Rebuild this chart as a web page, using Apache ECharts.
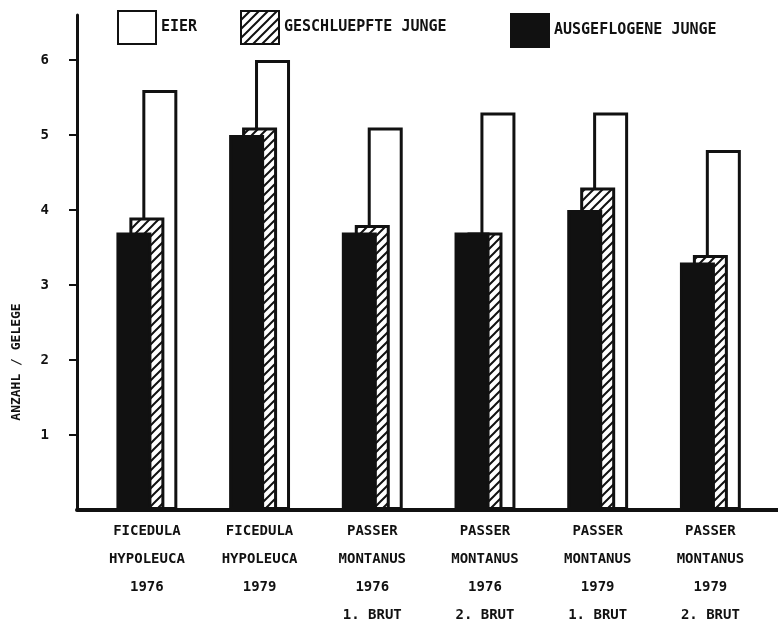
<!DOCTYPE html>
<html>
<head>
<meta charset="utf-8">
<script src="https://cdn.jsdelivr.net/npm/echarts@6/dist/echarts.min.js"></script>
<style>
	html, body { margin: 0; padding: 0; background: #fff; }
	#chart { width: 778px; height: 623px; }
</style>
</head>
<body>
<div id="chart"></div>
<script>
// groups on the x axis (one text line per entry)
var species = ["FICEDULA\nHYPOLEUCA", "FICEDULA\nHYPOLEUCA", "PASSER\nMONTANUS", "PASSER\nMONTANUS", "PASSER\nMONTANUS", "PASSER\nMONTANUS"];
var years = ["1976", "1979", "1976", "1976", "1979", "1979"];
var broods = ["", "", "1. BRUT", "2. BRUT", "1. BRUT", "2. BRUT"];

// values per group (ANZAHL / GELEGE)
var eier = [5.6, 6.0, 5.1, 5.3, 5.3, 4.8];
var geschluepft = [3.9, 5.1, 3.8, 3.7, 4.3, 3.4];
var ausgeflogen = [3.7, 5.0, 3.7, 3.7, 4.0, 3.3];

var yTicks = [1, 2, 3, 4, 5, 6];

var font = "'DejaVu Sans Mono', monospace";
var ink = "#111";

// hatch fill for the hatched bars
var hatch = document.createElement("canvas");
hatch.width = 9;
hatch.height = 9;
var ctx = hatch.getContext("2d");
ctx.fillStyle = "#fff";
ctx.fillRect(0, 0, 9, 9);
ctx.strokeStyle = ink;
ctx.lineWidth = 2;
ctx.beginPath();
ctx.moveTo(0, 9); ctx.lineTo(9, 0);
ctx.moveTo(-2, 2); ctx.lineTo(2, -2);
ctx.moveTo(7, 11); ctx.lineTo(11, 7);
ctx.stroke();

var labels = species.map(function(s, i) {
	var text = s + "\n" + years[i];
	if (broods[i]) {
		text += "\n" + broods[i];
	}
	return text;
});

var pairs = function(values) {
	return values.map(function(v, i) {
		return [i, v];
	});
};

var chart = echarts.init(document.getElementById("chart"));
var option = {
	animation: false,
	backgroundColor: "#fff",
	grid: {
		left: 77,
		right: 0,
		top: 15,
		bottom: 113,
		outerBoundsMode: "none"
	},
	legend: [{
		data: ["EIER"],
		left: 117,
		top: 10
	}, {
		data: ["GESCHLUEPFTE JUNGE"],
		left: 240,
		top: 10
	}, {
		data: ["AUSGEFLOGENE JUNGE"],
		left: 510,
		top: 13
	}].map(function(l) {
		l.icon = "rect";
		l.padding = 0;
		l.itemWidth = 38;
		l.itemHeight = 33;
		l.selectedMode = false;
		l.textStyle = { fontFamily: font, fontSize: 15, fontWeight: "bold", color: ink };
		return l;
	}),
	xAxis: {
		type: "value",
		min: -0.62,
		max: 5.6,
		z: 10,
		splitLine: { show: false },
		axisTick: { show: false },
		axisLine: { show: true, onZero: false, lineStyle: { color: ink, width: 4 } },
		axisLabel: {
			customValues: [0, 1, 2, 3, 4, 5],
			margin: 7,
			fontFamily: font,
			fontSize: 14,
			fontWeight: "bold",
			color: ink,
			lineHeight: 28,
			formatter: function(v) {
				return labels[Math.round(v)];
			}
		}
	},
	yAxis: {
		type: "value",
		min: 0,
		max: 6.6,
		z: 10,
		splitLine: { show: false },
		axisLine: { show: true, onZero: false, lineStyle: { color: ink, width: 3 } },
		axisTick: { show: true, customValues: yTicks, length: 8, lineStyle: { color: ink, width: 2 } },
		axisLabel: {
			customValues: yTicks,
			margin: 28,
			fontFamily: font,
			fontSize: 14,
			fontWeight: "bold",
			color: ink
		}
	},
	graphic: [{
		type: "text",
		x: 17,
		y: 362,
		rotation: Math.PI / 2,
		style: {
			text: "ANZAHL / GELEGE",
			fontFamily: font,
			fontSize: 13,
			fontWeight: "bold",
			fill: ink,
			align: "center",
			verticalAlign: "middle"
		}
	}],
	series: [{
		name: "AUSGEFLOGENE JUNGE",
		type: "bar",
		z: 4,
		barWidth: 35,
		barGap: "-63%",
		itemStyle: { color: ink, borderColor: ink, borderWidth: 3 },
		data: pairs(ausgeflogen)
	}, {
		name: "GESCHLUEPFTE JUNGE",
		type: "bar",
		z: 3,
		barWidth: 35,
		barGap: "-63%",
		itemStyle: { color: { image: hatch, repeat: "repeat" }, borderColor: ink, borderWidth: 3 },
		data: pairs(geschluepft)
	}, {
		name: "EIER",
		type: "bar",
		z: 2,
		barWidth: 35,
		barGap: "-63%",
		itemStyle: { color: "#fff", borderColor: ink, borderWidth: 3 },
		data: pairs(eier)
	}]
};
chart.setOption(option);
</script>
</body>
</html>
